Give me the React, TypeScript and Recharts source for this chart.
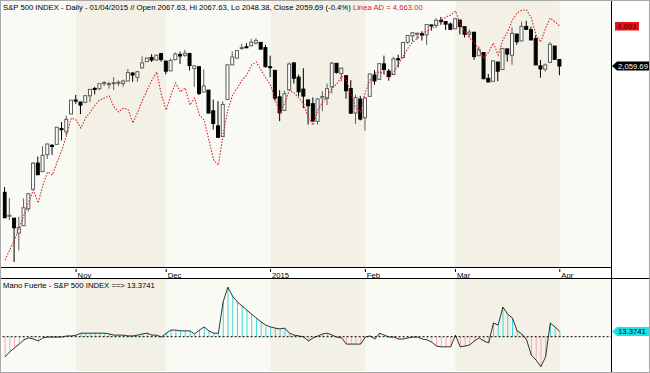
import { ComposedChart, Bar, Line, XAxis, YAxis, ReferenceArea, ReferenceLine, Cell } from 'recharts';

// trading days 13 Oct 2014 .. 1 Apr 2015 (index 0..117)
const opens = [
  1905.65, 1877.11, 1874.18, 1855.95, 1864.91, 1885.62, 1909.38, 1941.29, 1931.02, 1951.59, 1962.97, 1964.14, 1983.29, 1979.49, 2001.2,
  2018.21, 2015.81, 2015.29, 2023.33, 2032.36, 2032.01, 2038.2, 2037.75, 2039.21, 2039.74, 2038.29, 2041.48, 2051.16, 2045.87, 2057.46, 2065.07, 2070.15, 2067.03, 2074.78,
  2065.78, 2053.77, 2067.45, 2073.64, 2072.78, 2074.84, 2056.55, 2058.86, 2027.92, 2030.36, 2005.03, 1986.71, 1973.77, 2018.98, 2061.04, 2069.28, 2081.48, 2083.25, 2084.3, 2087.63, 2088.49, 2082.11,
  2058.9, 2054.44, 2022.15, 2005.55, 2030.61, 2063.45, 2046.13, 2031.58, 2018.4, 2013.75, 1992.25, 2020.76, 2020.19, 2034.3, 2062.98, 2050.42, 2047.86, 2032.34, 2002.45, 2019.35,
  1996.67, 2022.71, 2048.86, 2043.45, 2062.28, 2053.47, 2049.38, 2068.55, 2069.98, 2088.78, 2096.47, 2099.16, 2099.25, 2097.65, 2109.83, 2109.1, 2115.3, 2113.91, 2110.88,
  2105.23, 2115.76, 2107.72, 2098.54, 2100.91, 2072.25, 2076.14, 2044.69, 2041.1, 2064.56, 2055.35, 2080.59, 2072.84, 2098.69, 2090.32, 2107.99, 2103.94, 2093.1, 2059.94, 2055.78, 2064.11, 2084.05,
  2067.63,
];
const highs = [
  1912.09, 1898.71, 1874.18, 1876.01, 1898.16, 1905.03, 1942.45, 1949.31, 1961.95, 1965.27, 1964.64, 1985.05, 1991.4, 1999.4, 2018.19,
  2024.46, 2015.98, 2023.77, 2031.61, 2034.26, 2038.7, 2041.28, 2040.33, 2046.18, 2042.22, 2043.07, 2056.08, 2052.14, 2053.84, 2071.46, 2070.17, 2074.21, 2073.4, 2075.76,
  2065.78, 2068.77, 2076.28, 2077.34, 2079.47, 2075.78, 2060.6, 2058.86, 2055.53, 2030.36, 2018.69, 2016.89, 2016.75, 2061.23, 2077.85, 2078.76, 2086.73, 2087.56, 2092.7, 2093.55, 2088.49, 2085.58,
  2072.36, 2054.44, 2030.25, 2029.61, 2064.08, 2064.43, 2049.3, 2056.93, 2018.4, 2021.35, 2020.46, 2028.94, 2038.29, 2064.62, 2062.98, 2057.62, 2047.86, 2042.49, 2024.64, 2023.32,
  2021.66, 2050.3, 2054.74, 2063.55, 2072.4, 2056.16, 2070.86, 2073.48, 2088.53, 2097.03, 2101.3, 2100.23, 2102.13, 2110.61, 2110.05, 2117.94, 2119.59, 2113.91, 2112.74,
  2117.52, 2115.76, 2107.72, 2104.25, 2100.91, 2083.49, 2076.14, 2050.08, 2066.41, 2064.56, 2081.41, 2080.59, 2106.85, 2098.69, 2113.92, 2114.86, 2107.63, 2097.43, 2067.15, 2062.83, 2088.97, 2084.05,
  2067.63,
];
const lows = [
  1874.14, 1871.79, 1820.66, 1835.02, 1864.91, 1882.3, 1909.38, 1926.83, 1931.02, 1946.27, 1951.37, 1964.14, 1969.04, 1974.75, 2001.2,
  2013.68, 2001.01, 2014.42, 2015.86, 2025.07, 2030.17, 2035.28, 2031.95, 2030.44, 2035.2, 2034.46, 2041.48, 2040.37, 2040.49, 2056.75, 2065.07, 2064.75, 2066.96, 2065.06,
  2049.57, 2053.77, 2066.65, 2062.34, 2070.81, 2054.27, 2034.17, 2024.26, 2027.92, 2002.33, 1982.26, 1972.56, 1973.77, 2018.98, 2061.03, 2069.28, 2079.77, 2081.86, 2084.3, 2085.75, 2079.53, 2057.94,
  2046.04, 2017.34, 1992.44, 2005.55, 2030.61, 2038.33, 2022.58, 2008.25, 1988.44, 1991.47, 1988.12, 2004.49, 2012.04, 2026.38, 2050.54, 2040.97, 2019.91, 2001.49, 1989.18, 1993.38,
  1980.9, 2022.71, 2036.72, 2043.45, 2049.97, 2041.88, 2048.62, 2057.99, 2069.98, 2086.7, 2089.8, 2092.15, 2090.79, 2085.44, 2103.0, 2105.87, 2109.89, 2103.76, 2103.75,
  2104.5, 2098.26, 2094.49, 2095.22, 2067.27, 2072.21, 2044.16, 2039.69, 2041.1, 2041.17, 2055.35, 2065.08, 2061.23, 2085.56, 2090.32, 2104.42, 2091.5, 2061.05, 2045.5, 2052.96, 2064.11, 2067.04,
  2048.38,
];
const closes = [
  1874.74, 1877.7, 1862.49, 1862.76, 1886.76, 1904.01, 1941.28, 1927.11, 1950.82, 1964.58, 1961.63, 1985.05, 1982.3, 1994.65, 2018.05,
  2017.81, 2012.1, 2023.57, 2031.21, 2031.92, 2038.26, 2039.68, 2038.25, 2039.33, 2039.82, 2041.32, 2051.8, 2048.72, 2052.75, 2063.5, 2069.41, 2067.03, 2072.83, 2067.56,
  2053.44, 2066.55, 2074.33, 2071.92, 2075.37, 2060.31, 2059.82, 2026.14, 2035.33, 2002.33, 1989.63, 1972.74, 2012.89, 2061.23, 2070.65, 2078.54, 2082.17, 2081.88, 2088.77, 2090.57, 2080.35, 2058.9,
  2058.2, 2020.58, 2002.61, 2025.9, 2062.14, 2044.81, 2028.26, 2023.03, 2011.27, 1992.67, 2019.42, 2022.55, 2032.12, 2063.15, 2051.82, 2057.09, 2029.55, 2002.16, 2021.25, 1994.99,
  2020.85, 2050.03, 2041.51, 2062.52, 2055.47, 2046.74, 2068.59, 2068.53, 2088.48, 2096.99, 2100.34, 2099.68, 2097.45, 2110.3, 2109.66, 2115.48, 2113.86, 2110.74, 2104.5,
  2117.39, 2107.78, 2098.53, 2101.04, 2071.26, 2079.43, 2044.16, 2040.24, 2065.95, 2053.4, 2081.19, 2074.28, 2099.5, 2089.27, 2108.1, 2104.42, 2091.5, 2061.05, 2056.15, 2061.02, 2086.24, 2067.89,
  2059.69,
];
const lineaAD = [
  2323, 2423, 2523, 2643, 2773, 2903, 3023, 2893, 3073, 3203, 3173, 3303, 3423, 3573, 3743,
  3723, 3643, 3743, 3803, 3873, 3923, 3943, 3963, 3853, 3803, 3843, 3823, 3693, 3803, 3923, 4023, 4123, 4203, 3973,
  3823, 3973, 4093, 4003, 4043, 3873, 3943, 3773, 3723, 3523, 3323, 3273, 3573, 3823, 3973, 4043, 4123, 4173, 4273, 4303, 4223, 4143,
  4073, 3923, 3793, 3893, 4023, 3993, 3943, 3883, 3743, 3673, 3823, 3903, 3953, 4043, 4083, 4163, 4123, 3973, 3843, 3803,
  4003, 4123, 4193, 4203, 4183, 4143, 4203, 4283, 4363, 4443, 4503, 4543, 4583, 4613, 4633, 4683, 4723, 4753, 4773,
  4813, 4683, 4603, 4543, 4493, 4423, 4343, 4403, 4493, 4373, 4523, 4603, 4723, 4793, 4823, 4823, 4743, 4573, 4503, 4643, 4743, 4703,
  4663,
];
const manoFuerte = [
  -52, -39, -29, -19, -8, -3, -6, -11, -3, -1, -1, -1, -1, 2, 2,
  4, 9, 9, 9, 9, 9, 9, 7, 4, 4, 4, 2, 2, 4, 7, 9, 4, 4, -1,
  9, 17, 17, 15, 15, 15, 7, 17, 25, 15, 9, 9, 89, 127, 104, 89, 79, 68, 58, 48, 38, 30,
  25, 22, 20, 22, 9, 4, 2, -1, -11, -3, 2, 7, 9, 4, -1, -3, -19, -19, -19, -19,
  -1, 2, -6, 9, 4, -1, -1, -6, -6, -3, -1, -1, -6, -8, -14, -24, -26, -26, -26,
  4, -26, -24, -21, -11, -3, -11, -16, 35, 30, 76, 58, 48, 15, 7, -8, -47, -60, -77, -52, 35, 25,
  13.3741,
];

const monthTicks = [15, 34, 56, 76, 95, 117];
const monthLabels = ['Nov', 'Dec', '2015', 'Feb', 'Mar', 'Apr'];
const shadedMonths = [[15, 34], [56, 76], [95, 117]];

const titleText = 'S&P 500 INDEX - Daily - 01/04/2015 // Open 2067.63, Hi 2067.63, Lo 2048.38, Close 2059.69 (-0.4%)';
const adText = 'Linea AD = 4,663.00';
const mfText = 'Mano Fuerte - S&P 500 INDEX ==> 13.3741';

const rows = opens.map((o, i) => ({
  i,
  o,
  h: highs[i],
  l: lows[i],
  c: closes[i],
  ad: lineaAD[i],
  mf: manoFuerte[i],
}));

const FONT = '"Liberation Sans", Arial, sans-serif';
const FS = 7.7;
const X_DOMAIN: [number, number] = [-0.5, 127.8];
const MARGIN_L = 2.6;
const MARGIN_R = 39;

function Candle(props: any) {
  const { x, y, width, height, payload } = props;
  const top = Math.min(y, y + height);
  const px = Math.abs(height);
  const k = payload.h === payload.l ? 0 : px / (payload.h - payload.l);
  const up = payload.c >= payload.o;
  const bTop = top + (payload.h - Math.max(payload.o, payload.c)) * k;
  const bH = Math.max(1, Math.abs(payload.o - payload.c) * k);
  const cx = x + width / 2;
  const col = up ? '#5c5c5c' : '#000';
  return (
    <g>
      <line x1={cx} x2={cx} y1={top} y2={top + px} stroke={col} strokeWidth={1} />
      <rect x={x + 0.5} y={bTop} width={width - 1} height={bH} fill={up ? '#fff' : '#000'} stroke={col} strokeWidth={1} />
    </g>
  );
}

function MonthTick(props: any) {
  const { x, y, payload } = props;
  const label = monthLabels[monthTicks.indexOf(payload.value)];
  return (
    <g>
      <line x1={x} x2={x} y1={y} y2={y + 3} stroke="#000" />
      <text x={x + 1.5} y={y + 8.5} fontSize={FS} fontFamily={FONT} fill="#000">{label}</text>
    </g>
  );
}

function ArrowTag(props: any) {
  const { viewBox, text, fill, color } = props;
  const x0 = viewBox.x + viewBox.width + 1;
  const cy = viewBox.y;
  return (
    <g>
      <path d={`M${x0},${cy} L${x0 + 5},${cy - 4.5} L${x0 + 38},${cy - 4.5} L${x0 + 38},${cy + 4.5} L${x0 + 5},${cy + 4.5} Z`} fill={fill} />
      <text x={x0 + 6} y={cy + 3} fontSize={FS} fontFamily={FONT} fill={color}>{text}</text>
    </g>
  );
}

function BoxTag(props: any) {
  const { viewBox, text } = props;
  const x0 = viewBox.x + viewBox.width + 4;
  const cy = viewBox.y;
  return (
    <g>
      <rect x={x0} y={cy - 4} width={24} height={8.5} fill="#e8101a" />
      <text x={x0 + 2} y={cy + 3} fontSize={FS} fontFamily={FONT} fill="#5a0000">{text}</text>
    </g>
  );
}

export default function App() {
  return (
    <div style={{ position: 'absolute', left: 0, top: 0, width: 650, height: 373, background: '#fff', overflow: 'hidden' }}>
      <div style={{ position: 'absolute', left: 0, top: 0 }}>
        <ComposedChart width={650} height={279} data={rows} margin={{ top: 1, right: MARGIN_R, bottom: 1, left: MARGIN_L }}>
          <XAxis dataKey="i" type="number" domain={X_DOMAIN} ticks={monthTicks} height={11} axisLine={false} tickLine={false} tickSize={0} tick={<MonthTick />} interval={0} allowDataOverflow />
          <YAxis yAxisId="price" hide domain={[1814.6, 2139]} allowDataOverflow />
          <YAxis yAxisId="ad" hide domain={[2253, 4913]} allowDataOverflow />
          <ReferenceArea yAxisId="price" x1={X_DOMAIN[0]} x2={X_DOMAIN[1]} fill="#fafaf5" fillOpacity={1} />
          {shadedMonths.map(([a, b]) => (
            <ReferenceArea key={a} yAxisId="price" x1={a} x2={b} fill="#f3f1e5" fillOpacity={1} />
          ))}
          <Bar yAxisId="price" dataKey={(d: any) => [d.l, d.h]} barSize={4} shape={<Candle />} isAnimationActive={false} />
          <Line yAxisId="ad" dataKey="ad" stroke="#d8232c" strokeWidth={1.1} strokeDasharray="1.5 1.5" dot={false} type="linear" isAnimationActive={false} />
          <ReferenceLine yAxisId="price" y={2059.69} stroke="none" label={<ArrowTag text="2,059.69" fill="#000" color="#fff" />} />
          <ReferenceLine yAxisId="ad" y={4663} stroke="none" label={<BoxTag text="4,663" />} />
        </ComposedChart>
      </div>
      <div style={{ position: 'absolute', left: 0, top: 279 }}>
        <ComposedChart width={650} height={93} data={rows} margin={{ top: 0, right: MARGIN_R, bottom: 1, left: MARGIN_L }}>
          <XAxis dataKey="i" type="number" domain={X_DOMAIN} hide allowDataOverflow />
          <YAxis hide domain={[-88, 148]} allowDataOverflow />
          <ReferenceArea x1={X_DOMAIN[0]} x2={X_DOMAIN[1]} fill="#fafaf5" fillOpacity={1} />
          {shadedMonths.map(([a, b]) => (
            <ReferenceArea key={a} x1={a} x2={b} fill="#f3f1e5" fillOpacity={1} />
          ))}
          <Bar dataKey="mf" barSize={1} isAnimationActive={false}>
            {rows.map((r) => (
              <Cell key={r.i} fill={r.mf >= 0 ? '#3fd8e0' : '#f2a9b8'} />
            ))}
          </Bar>
          <ReferenceLine y={0} segment={[{ x: 0, y: 0 }, { x: 117, y: 0 }]} stroke="#000" strokeDasharray="2 2" />
          <Line dataKey="mf" stroke="#000" strokeWidth={0.8} dot={false} type="linear" isAnimationActive={false} />
          <ReferenceLine y={13.3741} stroke="none" label={<ArrowTag text="13.3741" fill="#14e6e6" color="#000" />} />
        </ComposedChart>
      </div>
      <svg width={650} height={373} style={{ position: 'absolute', left: 0, top: 0, pointerEvents: 'none' }}>
        <text x={3} y={9.5} fontSize={FS} fontFamily={FONT} fill="#000">
          {titleText}
          <tspan fill="#e0141e"> {adText}</tspan>
        </text>
        <text x={3} y={287.5} fontSize={FS} fontFamily={FONT} fill="#000">{mfText}</text>
        <line x1={0} x2={611} y1={267.5} y2={267.5} stroke="#000" />
        <line x1={0} x2={650} y1={278.5} y2={278.5} stroke="#000" />
        <line x1={611.5} x2={611.5} y1={0} y2={373} stroke="#000" />
        <rect x={0.5} y={0.5} width={649} height={372} fill="none" stroke="#a8a8a8" />
      </svg>
    </div>
  );
}
